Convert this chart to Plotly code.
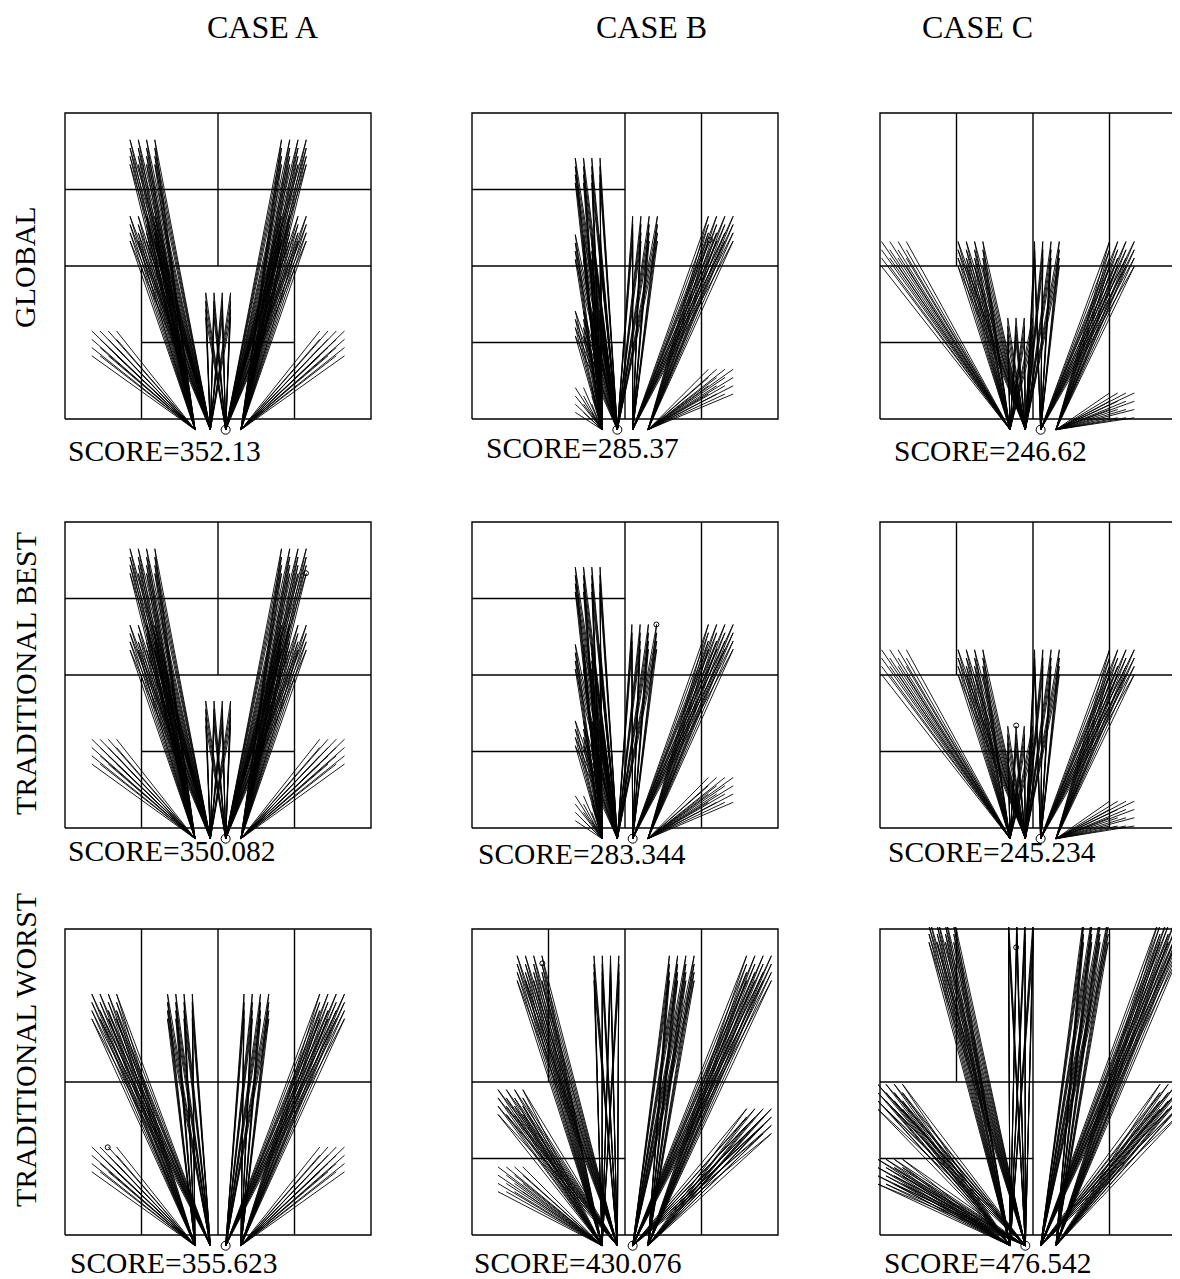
import plotly.graph_objects as go

# ---------------- data ----------------
COL_LABELS = ["CASE A", "CASE B", "CASE C"]
ROW_LABELS = ["GLOBAL", "TRADITIONAL BEST", "TRADITIONAL WORST"]
SCORES = [["352.13", "285.37", "246.62"],
          ["350.082", "283.344", "245.234"],
          ["355.623", "430.076", "476.542"]]

SOURCE_X = [1.70, 1.90, 2.10, 2.30]
SOURCE_Y = -0.14
GRID_STEP = 0.108
GRID_N = 4

# partition segments (x0, y0, x1, y1)
PART_A12 = [(0, 2, 4, 2), (0, 3, 4, 3), (2, 2, 2, 4), (1, 0, 1, 2), (3, 0, 3, 2), (1, 1, 3, 1)]
PART_B12 = [(2, 0, 2, 4), (3, 0, 3, 4), (0, 2, 4, 2), (0, 3, 2, 3), (0, 1, 2, 1)]
PART_C12 = [(0, 2, 4, 2), (1, 2, 1, 4), (2, 0, 2, 4), (3, 0, 3, 4), (0, 1, 2, 1)]
PART_A3 = [(1, 0, 1, 4), (2, 0, 2, 4), (3, 0, 3, 4), (0, 2, 4, 2)]
PART_B3 = [(1, 2, 1, 4), (2, 0, 2, 4), (3, 0, 3, 4), (0, 2, 4, 2), (0, 1, 2, 1)]
PART_C3 = [(1, 2, 1, 4), (2, 0, 2, 4), (3, 0, 3, 4), (0, 2, 4, 2), (0, 1, 2, 1)]

# endpoint clusters: (left x, top y, source indices)
CL_A1 = [(0.35, 1.15, [0]), (0.85, 3.65, [0, 1]), (0.85, 2.65, [0, 1]), (1.84, 1.65, [1, 2]),
         (2.83, 3.65, [2, 3]), (2.83, 2.65, [2, 3]), (3.33, 1.15, [3])]
CL_B1 = [(1.35, 3.41, [0, 1]), (1.35, 2.41, [0, 1]), (1.35, 1.41, [0, 1]), (1.35, 0.41, [0]),
         (2.10, 2.65, [1, 2]), (3.09, 2.65, [2, 3]), (3.09, 0.65, [3])]
CL_C1 = [(0.02, 2.32, [0]), (1.02, 2.32, [0, 1]), (1.67, 1.32, [0, 1]), (2.02, 2.32, [1, 2]),
         (3.00, 2.32, [2, 3]), (3.00, 0.34, [3])]
CL_A2 = [(0.35, 1.16, [0]), (0.85, 3.65, [0, 1]), (0.85, 2.65, [0, 1]), (1.84, 1.66, [1, 2]),
         (2.83, 3.65, [2, 3]), (2.83, 2.65, [2, 3]), (3.33, 1.16, [3])]
CL_B2 = [(1.35, 3.41, [0, 1]), (1.35, 2.40, [0, 1]), (1.35, 1.40, [0, 1]), (1.35, 0.42, [0]),
         (2.09, 2.66, [1, 2]), (3.09, 2.66, [2, 3]), (3.09, 0.66, [3])]
CL_C2 = [(0.02, 2.33, [0]), (1.02, 2.33, [0, 1]), (1.67, 1.33, [0, 1]), (2.02, 2.33, [1, 2]),
         (3.00, 2.33, [2, 3]), (3.00, 0.35, [3])]
CL_A3 = [(0.35, 1.15, [0]), (0.35, 3.15, [0, 1]), (1.34, 3.15, [0, 1]), (2.34, 3.15, [2, 3]),
         (3.33, 3.15, [2, 3]), (3.33, 1.15, [3])]
CL_B3 = [(0.59, 3.65, [0, 1]), (1.595, 3.65, [0, 1]), (2.58, 3.65, [2, 3]), (3.59, 3.65, [2, 3]),
         (0.34, 1.90, [0, 1]), (0.34, 0.89, [0]), (3.59, 1.65, [2, 3])]
CL_C3 = [(0.64, 4.15, [0, 1]), (1.68, 4.15, [0, 1]), (2.66, 4.15, [2, 3]), (3.66, 4.15, [2, 3]),
         (-0.03, 1.97, [0, 1]), (-0.03, 0.99, [0, 1]), (3.66, 1.97, [2, 3])]

# highlighted source (big circle) per panel
MARK_SRC = [[2, 1, 2], [2, 2, 2], [2, 2, 1]]

# small target circles (x, y) per panel
TGT_A1, TGT_B1, TGT_C1 = [], [(3.11, 2.34)], []
TGT_A2, TGT_B2, TGT_C2 = [(3.15, 3.33)], [(2.41, 2.66)], [(1.78, 1.34)]
TGT_A3, TGT_B3, TGT_C3 = [(0.558, 1.146)], [(0.92, 3.55)], [(1.78, 3.76)]

PARTS = [[PART_A12, PART_B12, PART_C12], [PART_A12, PART_B12, PART_C12], [PART_A3, PART_B3, PART_C3]]
CLUSTERS = [[CL_A1, CL_B1, CL_C1], [CL_A2, CL_B2, CL_C2], [CL_A3, CL_B3, CL_C3]]
TARGETS = [[TGT_A1, TGT_B1, TGT_C1], [TGT_A2, TGT_B2, TGT_C2], [TGT_A3, TGT_B3, TGT_C3]]

# ---------------- layout geometry (pixels, page body margin of 8px removed) ----------------
OFF = 8
W, H = 1180 - OFF, 1279
COL_LEFT = [65 - OFF, 472 - OFF, 880 - OFF]
ROW_TOP = [113 - OFF, 522 - OFF, 929 - OFF]
BOX = 306
K = BOX / 4.0
PAD = 2
BELOW = 25
FONT = "Liberation Serif"

fig = go.Figure()
axes = {}

for r in range(3):
    for c in range(3):
        idx = r * 3 + c + 1
        L, T = COL_LEFT[c], ROW_TOP[r]
        x0p, x1p = L - PAD, min(L + BOX + PAD, W)
        y0p, y1p = T - PAD, T + BOX + BELOW
        xname = "xaxis" if idx == 1 else f"xaxis{idx}"
        yname = "yaxis" if idx == 1 else f"yaxis{idx}"
        axes[xname] = dict(domain=[x0p / W, x1p / W], range=[(x0p - L) / K, (x1p - L) / K],
                           visible=False, fixedrange=True)
        axes[yname] = dict(domain=[1 - y1p / H, 1 - y0p / H], range=[-BELOW / K, 4 + PAD / K],
                           visible=False, fixedrange=True)
        xa = "x" if idx == 1 else f"x{idx}"
        ya = "y" if idx == 1 else f"y{idx}"

        # rays
        rx, ry = [], []
        for (cx, cy, srcs) in CLUSTERS[r][c]:
            for s in srcs:
                for i in range(GRID_N):
                    for j in range(GRID_N):
                        rx += [SOURCE_X[s], cx + i * GRID_STEP, None]
                        ry += [SOURCE_Y, cy - j * GRID_STEP, None]
        fig.add_trace(go.Scatter(x=rx, y=ry, mode="lines", xaxis=xa, yaxis=ya,
                                 line=dict(color="black", width=0.9), hoverinfo="skip"))

        # box and partitions
        bx = [0, 4, 4, 0, 0, None]
        by = [0, 0, 4, 4, 0, None]
        for (a, b, e, f) in PARTS[r][c]:
            bx += [a, e, None]
            by += [b, f, None]
        fig.add_trace(go.Scatter(x=bx, y=by, mode="lines", xaxis=xa, yaxis=ya,
                                 line=dict(color="black", width=1.4), hoverinfo="skip"))

        # highlighted source
        s = MARK_SRC[r][c]
        fig.add_trace(go.Scatter(x=[SOURCE_X[s]], y=[SOURCE_Y], mode="markers", xaxis=xa, yaxis=ya,
                                 marker=dict(symbol="circle-open", size=9, color="black",
                                             line=dict(width=1, color="black")),
                                 cliponaxis=False, hoverinfo="skip"))
        # small target circles
        tg = TARGETS[r][c]
        if tg:
            fig.add_trace(go.Scatter(x=[t[0] for t in tg], y=[t[1] for t in tg], mode="markers",
                                     xaxis=xa, yaxis=ya,
                                     marker=dict(symbol="circle-open", size=5, color="black",
                                                 line=dict(width=1, color="black")),
                                     hoverinfo="skip"))

annotations = []
COL_CENTER_PX = [262, 651, 977]
for c, lab in enumerate(COL_LABELS):
    annotations.append(dict(text=lab, x=(COL_CENTER_PX[c] - OFF) / W, y=1 - (27 - OFF) / H,
                            xref="paper", yref="paper",
                            showarrow=False, xanchor="center", yanchor="middle",
                            font=dict(family=FONT, size=32, color="black")))
ROW_CENTER_PX = [267, 674, 1050]
for r, lab in enumerate(ROW_LABELS):
    annotations.append(dict(text=lab, x=(25 - OFF) / W, y=1 - (ROW_CENTER_PX[r] - OFF) / H,
                            xref="paper", yref="paper",
                            showarrow=False, xanchor="center", yanchor="middle", textangle=-90,
                            font=dict(family=FONT, size=30, color="black")))
SCORE_POS = [[(66, 451), (484, 448), (892, 451)],
             [(66, 851), (476, 854), (886, 852)],
             [(68, 1263), (472, 1263), (882, 1263)]]
for r in range(3):
    for c in range(3):
        px, py = SCORE_POS[r][c]
        annotations.append(dict(text="SCORE=" + SCORES[r][c], x=(px - OFF) / W, y=1 - (py - OFF) / H,
                                xref="paper", yref="paper", showarrow=False,
                                xanchor="left", yanchor="middle",
                                font=dict(family=FONT, size=29.5, color="black")))

fig.update_layout(width=W, height=H, margin=dict(l=0, r=0, t=0, b=0, pad=0),
                  paper_bgcolor="white", plot_bgcolor="white", showlegend=False,
                  annotations=annotations, **axes)

fig.write_html("out.html")
